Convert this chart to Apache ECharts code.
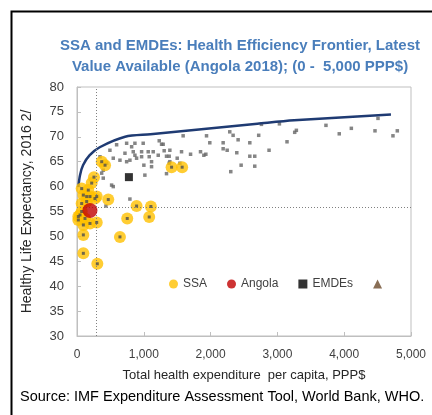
<!DOCTYPE html>
<html>
<head>
<meta charset="utf-8">
<script src="https://cdn.jsdelivr.net/npm/echarts@6/dist/echarts.min.js"></script>
<style>
  html, body { margin: 0; padding: 0; background: #fff; }
  #chart { width: 432px; height: 415px; }
</style>
</head>
<body>
<div id="chart"></div>
<script>
// 健康效率前沿线 (支出, 健康预期寿命)
const frontier = [[20, 59.9], [45, 62.3], [90, 64.3], [190, 66.3], [340, 67.9], [720, 70.0],
  [1100, 70.5], [2700, 72.6], [3250, 73.3], [4700, 74.5]]

// 撒哈拉以南非洲国家
const ssa = [[370, 65.0], [420, 64.3], [254, 61.9], [220, 60.7], [70, 59.6], [169, 59.3],
  [95, 58.3], [194, 58.0], [269, 57.6], [468, 57.4], [70, 56.6], [145, 57.0], [70, 55.0],
  [20, 54.0], [45, 54.3], [120, 53.6], [295, 52.8], [95, 52.3], [194, 52.6], [20, 53.3],
  [95, 50.3], [95, 46.6], [304, 44.5], [643, 49.9], [752, 53.6], [892, 56.1], [1106, 56.0],
  [1081, 53.9], [1416, 63.9], [1574, 63.9], [145, 58.0], [295, 58.0]]

const angola = [[194, 55.2]]
const emdeAvg = [[777, 61.9]]

// 其他新兴市场和发展中经济体
const emdes = [[344, 66], [493, 67.3], [543, 65.7], [643, 65.3], [818, 68], [718, 66.7],
  [792, 65.3], [867, 66.3], [393, 63.3], [369, 62.7], [393, 61.7], [518, 60.3], [543, 60],
  [792, 57.5], [444, 64.7], [593, 68.4], [743, 68.7], [867, 68.7], [991, 68.7], [1066, 67],
  [1141, 67], [743, 65], [967, 66], [1116, 65], [1016, 62.3], [433, 56.1], [1231, 69.2],
  [1290, 68.5], [842, 67], [967, 67], [1216, 66.3], [1305, 67.2], [1380, 66.1], [1565, 67],
  [1700, 66.5], [1589, 70.2], [1939, 70.2], [1988, 68.8], [2188, 68.8], [1849, 67],
  [1929, 66.5], [2188, 67.6], [892, 65.7], [1081, 66], [1116, 64], [1001, 64.3],
  [1340, 62.6], [1380, 64.7], [1540, 64.7], [1266, 68.5], [1390, 67.3], [1899, 66.3],
  [1340, 66.1], [1500, 65.7], [1390, 65], [2287, 71], [2337, 70.3], [2412, 69.4],
  [2587, 68.8], [2720, 70.3], [2248, 67.3], [2392, 66.8], [2587, 66.1], [2661, 66.1],
  [2661, 64.1], [2457, 64.3], [2302, 63], [2875, 67.3], [3144, 69], [3259, 70.9],
  [3284, 71.3], [3030, 72.6], [2761, 72.5], [3727, 72.3], [3926, 70.6], [4107, 71.7],
  [4461, 71.2], [4506, 73.7], [4730, 70.2], [4795, 71.2]]

// 参考线位置
const refX = 285
const refY = 55.8

const yTicks = { min: 30, max: 80, interval: 5 }
const xTicks = { min: 0, max: 5000, interval: 1000 }

const chart = echarts.init(document.getElementById('chart'))
const font = 'Liberation Sans'
const axisGray = '#bfbfbf'

const option = {
  animation: false,
  textStyle: { fontFamily: font },
  title: {
    text: 'SSA and EMDEs: Health Efficiency Frontier, Latest\nValue Available (Angola 2018); (0 -  5,000 PPP$)',
    left: 235,
    textAlign: 'center',
    top: 30,
    textStyle: { color: '#4a7ebb', fontSize: 15, fontWeight: 'bold', lineHeight: 21, fontFamily: font }
  },
  grid: { left: 77, right: 21, top: 87, bottom: 79, show: true, borderColor: axisGray, borderWidth: 1 },
  legend: {
    data: ['SSA', 'Angola', 'EMDEs', '\u00a0'],
    left: 164,
    top: 273,
    itemWidth: 9,
    itemHeight: 9,
    itemGap: 20,
    textStyle: { color: '#404040', fontSize: 12 }
  },
  xAxis: {
    type: 'value',
    min: xTicks.min,
    max: xTicks.max,
    interval: xTicks.interval,
    name: 'Total health expenditure  per capita, PPP$',
    nameLocation: 'middle',
    nameGap: 33,
    nameTextStyle: { color: '#262626', fontSize: 13 },
    axisLine: { lineStyle: { color: axisGray } },
    axisTick: { inside: true, length: 4, lineStyle: { color: axisGray } },
    axisLabel: {
      color: '#404040',
      fontSize: 12,
      margin: 13,
      formatter: v => v.toLocaleString('en-US')
    },
    splitLine: { show: false }
  },
  yAxis: {
    type: 'value',
    min: yTicks.min,
    max: yTicks.max,
    interval: yTicks.interval,
    name: 'Healthy Life Expectancy, 2016 2/',
    nameLocation: 'middle',
    nameGap: 43,
    nameTextStyle: { color: '#262626', fontSize: 14 },
    axisLine: { show: true, lineStyle: { color: axisGray } },
    axisTick: { show: true, inside: true, length: 4, lineStyle: { color: axisGray } },
    axisLabel: { color: '#404040', fontSize: 13, margin: 13 },
    splitLine: { show: false }
  },
  graphic: [
    // 外框黑线
    { type: 'polyline', shape: { points: [[432, 11.5], [11.5, 11.5], [11.5, 415]] },
      style: { stroke: '#000', lineWidth: 2, fill: null } },
    { type: 'text', left: 20, top: 389,
      style: { text: 'Source: IMF Expenditure Assessment Tool, World Bank, WHO.', fill: '#000', fontSize: 14.5, fontFamily: font } }
  ],
  series: [
    {
      name: 'EMDE points',
      type: 'scatter',
      data: emdes,
      symbol: 'rect',
      symbolSize: 3.5,
      itemStyle: { color: '#666' },
      silent: true,
      z: 2
    },
    {
      name: 'Frontier',
      type: 'line',
      data: frontier,
      showSymbol: false,
      smooth: 0.3,
      lineStyle: { color: '#1f3b73', width: 2.5 },
      z: 3,
      markLine: {
        silent: true,
        symbol: 'none',
        label: { show: false },
        lineStyle: { color: '#808080', type: [1, 2], width: 1 },
        data: [{ xAxis: refX }, { yAxis: refY }]
      }
    },
    {
      name: 'SSA',
      type: 'scatter',
      data: ssa,
      symbolSize: 12,
      itemStyle: { color: '#ffc000' },
      z: 4
    },
    {
      name: 'SSA centres',
      type: 'scatter',
      data: ssa,
      symbol: 'rect',
      symbolSize: 3,
      itemStyle: { color: '#4d4d4d' },
      silent: true,
      z: 5
    },
    {
      name: 'Angola',
      type: 'scatter',
      data: angola,
      symbolSize: 15,
      itemStyle: { color: '#c00000' },
      z: 6
    },
    {
      name: 'EMDEs',
      type: 'scatter',
      data: emdeAvg,
      symbol: 'rect',
      symbolSize: 8,
      itemStyle: { color: '#000' },
      z: 6
    },
    {
      name: '\u00a0',
      type: 'scatter',
      data: [],
      symbol: 'triangle',
      itemStyle: { color: '#6b4a2b' }
    }
  ]
}

chart.setOption(option)
</script>
</body>
</html>
